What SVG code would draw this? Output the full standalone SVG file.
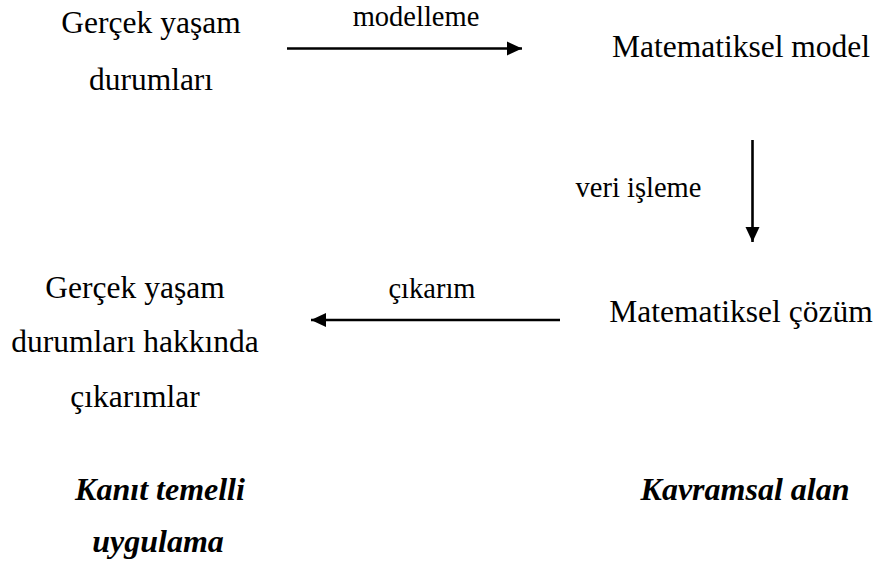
<svg xmlns="http://www.w3.org/2000/svg" width="877" height="566" viewBox="0 0 877 566">
  <style>
    text { font-family: "Liberation Serif", "Times New Roman", serif; fill: #000; text-anchor: middle; }
    .t { font-size: 31.5px; }
    .lbl { font-size: 28.5px; }
    .bi { font-weight: bold; font-style: italic; font-size: 32px; }
    .conn { stroke: #000; stroke-width: 2.6; fill: none; }
  </style>
  <defs>
    <marker id="arrow" markerUnits="userSpaceOnUse" markerWidth="17" markerHeight="17" viewBox="0 0 17 17" refX="16" refY="8.5" orient="auto">
      <path d="M1,1.5 L16,8.5 L1,15.5 Z" fill="#000"/>
    </marker>
  </defs>

  <rect width="877" height="566" fill="#fff"/>

  <!-- connectors with their labels -->
  <g id="connectors">
    <line class="conn" x1="287" y1="48.5" x2="522" y2="48.5" marker-end="url(#arrow)"/>
    <line class="conn" x1="752.5" y1="140" x2="752.5" y2="242" marker-end="url(#arrow)"/>
    <line class="conn" x1="560" y1="320" x2="311" y2="320" marker-end="url(#arrow)"/>
    <text class="lbl" x="416" y="26">modelleme</text>
    <text class="lbl" x="638.5" y="197">veri işleme</text>
    <text class="lbl" x="432" y="298">çıkarım</text>
  </g>

  <!-- nodes -->
  <g id="real-life">
    <text class="t" x="151" y="33">Gerçek yaşam</text>
    <text class="t" x="151" y="90">durumları</text>
  </g>

  <g id="math-model">
    <text class="t" x="741" y="57">Matematiksel model</text>
  </g>

  <g id="math-solution">
    <text class="t" x="741" y="322">Matematiksel çözüm</text>
  </g>

  <g id="inferences">
    <text class="t" x="135" y="298">Gerçek yaşam</text>
    <text class="t" x="135" y="352">durumları hakkında</text>
    <text class="t" x="135" y="407">çıkarımlar</text>
  </g>

  <g id="evidence-based">
    <text class="bi" x="160" y="500">Kanıt temelli</text>
    <text class="bi" x="158" y="552">uygulama</text>
  </g>

  <g id="conceptual">
    <text class="bi" x="745" y="500">Kavramsal alan</text>
  </g>
</svg>
